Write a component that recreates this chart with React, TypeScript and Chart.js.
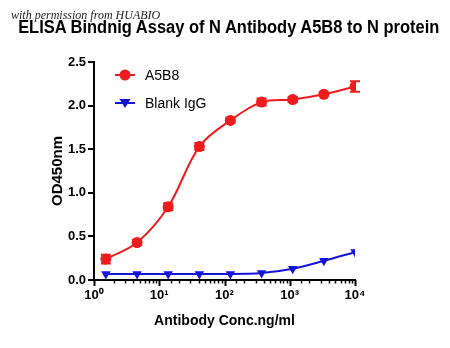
import { useEffect, useRef } from 'react';
import { Chart, registerables } from 'chart.js';

Chart.register(...registerables);

const FONT = "'Liberation Sans', Arial, sans-serif";
const RED = '#ee1c1c';
const BLUE = '#1414d8';

const concentrations = [1.52, 4.57, 13.7, 41.2, 123, 370, 1111, 3333, 10000];
const a5b8 = [0.24, 0.43, 0.84, 1.53, 1.83, 2.04, 2.07, 2.13, 2.22];
const a5b8Err = [0.05, 0.03, 0.04, 0.04, 0.03, 0.04, 0.03, 0.02, 0.06];
const blankIgG = [0.07, 0.07, 0.07, 0.07, 0.07, 0.08, 0.13, 0.22, 0.32];
const yTicks = [0, 0.5, 1.0, 1.5, 2.0, 2.5];
const xTickLabels: Record<number, string> = { 1: '10⁰', 10: '10¹', 100: '10²', 1000: '10³', 10000: '10⁴' };

const customPlugin = {
  id: 'custom',
  afterDatasetsDraw(chart: any) {
    const { ctx } = chart;
    const xs = chart.scales.x;
    const ys = chart.scales.y;
    ctx.save();
    ctx.strokeStyle = RED;
    ctx.lineWidth = 2;
    concentrations.forEach((c, i) => {
      const x = xs.getPixelForValue(c);
      const y1 = ys.getPixelForValue(a5b8[i] + a5b8Err[i]);
      const y2 = ys.getPixelForValue(a5b8[i] - a5b8Err[i]);
      ctx.beginPath();
      ctx.moveTo(x, y1); ctx.lineTo(x, y2);
      ctx.moveTo(x - 5, y1); ctx.lineTo(x + 5, y1);
      ctx.moveTo(x - 5, y2); ctx.lineTo(x + 5, y2);
      ctx.stroke();
    });
    ctx.restore();
  },
  afterDraw(chart: any) {
    const { ctx, chartArea } = chart;
    const xs = chart.scales.x;
    const ys = chart.scales.y;
    ctx.save();
    ctx.strokeStyle = '#000';
    xs.ticks.forEach((t: any) => {
      const v = t.value;
      const lg = Math.log10(v);
      const major = Math.abs(lg - Math.round(lg)) < 1e-6;
      const x = Math.round(xs.getPixelForValue(v)) + 0.5;
      ctx.lineWidth = major ? 2 : 1.5;
      ctx.beginPath();
      ctx.moveTo(x, chartArea.bottom);
      ctx.lineTo(x, chartArea.bottom + (major ? 6 : 3.5));
      ctx.stroke();
    });
    ctx.lineWidth = 2;
    ys.ticks.forEach((t: any) => {
      const y = Math.round(ys.getPixelForValue(t.value));
      ctx.beginPath();
      ctx.moveTo(chartArea.left, y);
      ctx.lineTo(chartArea.left - 6, y);
      ctx.stroke();
    });
    const items = chart.data.datasets;
    const lx = chartArea.left + 21;
    items.forEach((ds: any, i: number) => {
      const ly = chartArea.top + 13 + i * 28;
      ctx.strokeStyle = ds.borderColor;
      ctx.fillStyle = ds.borderColor;
      ctx.lineWidth = 2;
      ctx.beginPath();
      ctx.moveTo(lx, ly); ctx.lineTo(lx + 20, ly);
      ctx.stroke();
      const cx = lx + 10;
      ctx.beginPath();
      if (ds.pointStyle === 'circle') {
        ctx.arc(cx, ly, 5.5, 0, Math.PI * 2);
      } else {
        ctx.moveTo(cx - 5.5, ly - 4);
        ctx.lineTo(cx + 5.5, ly - 4);
        ctx.lineTo(cx, ly + 5);
        ctx.closePath();
      }
      ctx.fill();
      ctx.fillStyle = '#000';
      ctx.font = `14px ${FONT}`;
      ctx.textBaseline = 'middle';
      ctx.textAlign = 'left';
      ctx.fillText(ds.label, lx + 30, ly + 1);
    });
    ctx.restore();
  },
};

export default function App() {
  const ref = useRef<HTMLCanvasElement>(null);
  useEffect(() => {
    document.body.style.margin = '0';
    const chart = new Chart(ref.current!, {
      type: 'line',
      data: {
        datasets: [
          {
            label: 'A5B8',
            data: concentrations.map((x, i) => ({ x, y: a5b8[i] })),
            borderColor: RED,
            backgroundColor: RED,
            pointStyle: 'circle',
            pointRadius: 5.5,
            pointBorderWidth: 0,
            borderWidth: 2,
            tension: 0.35,
          },
          {
            label: 'Blank IgG',
            data: concentrations.map((x, i) => ({ x, y: blankIgG[i] })),
            borderColor: BLUE,
            backgroundColor: BLUE,
            pointStyle: 'triangle',
            rotation: 180,
            pointRadius: 5.5,
            pointBorderWidth: 0,
            borderWidth: 2,
            cubicInterpolationMode: 'monotone',
          },
        ],
      },
      options: {
        responsive: false,
        animation: false,
        devicePixelRatio: 1,
        layout: { padding: { top: 62, right: 95, left: 0, bottom: 0 } },
        plugins: { legend: { display: false }, tooltip: { enabled: false }, title: { display: false } },
        scales: {
          x: {
            type: 'logarithmic',
            min: 1,
            max: 10000,
            grid: { display: false },
            border: { display: true, color: '#000', width: 2 },
            ticks: {
              autoSkip: false,
              maxRotation: 0,
              padding: 0,
              color: '#000',
              font: { family: FONT, size: 13, weight: 'bold' },
              callback: (v: any) => xTickLabels[Number(v)] ?? '',
            },
            title: {
              display: true,
              text: 'Antibody Conc.ng/ml',
              color: '#000',
              font: { family: FONT, size: 14, weight: 'bold' },
              padding: { top: 0, bottom: 18 },
            },
            afterFit: (s: any) => { s.height = 68; },
          },
          y: {
            min: 0,
            max: 2.5,
            afterBuildTicks: (s: any) => { s.ticks = yTicks.map((v) => ({ value: v })); },
            grid: { display: false },
            border: { display: true, color: '#000', width: 2 },
            ticks: {
              padding: 0,
              color: '#000',
              font: { family: FONT, size: 13, weight: 'bold' },
              callback: (v: any) => Number(v).toFixed(1),
            },
            title: {
              display: true,
              text: 'OD450nm',
              color: '#000',
              font: { family: FONT, size: 15, weight: 'bold' },
              padding: { top: 49, bottom: 0 },
            },
            afterFit: (s: any) => { s.width = 94; },
          },
        },
      },
      plugins: [customPlugin],
    });
    return () => chart.destroy();
  }, []);
  return (
    <div style={{ position: 'relative', width: 450, height: 348, background: '#fff' }}>
      <canvas ref={ref} width={450} height={348} />
      <div
        style={{
          position: 'absolute', left: 0, width: 450, top: 16, textAlign: 'center',
          font: `bold 18px ${FONT}`, color: '#000', whiteSpace: 'nowrap', lineHeight: '22px',
          transform: 'translateX(-1px) scaleX(0.915)',
        }}
      >
        ELISA Bindnig Assay of N Antibody A5B8 to N protein
      </div>
      <div
        style={{
          position: 'absolute', left: 11, top: 8, font: "italic 12px 'Liberation Serif', serif",
          color: '#222', whiteSpace: 'nowrap',
        }}
      >
        with permission from HUABIO
      </div>
    </div>
  );
}
